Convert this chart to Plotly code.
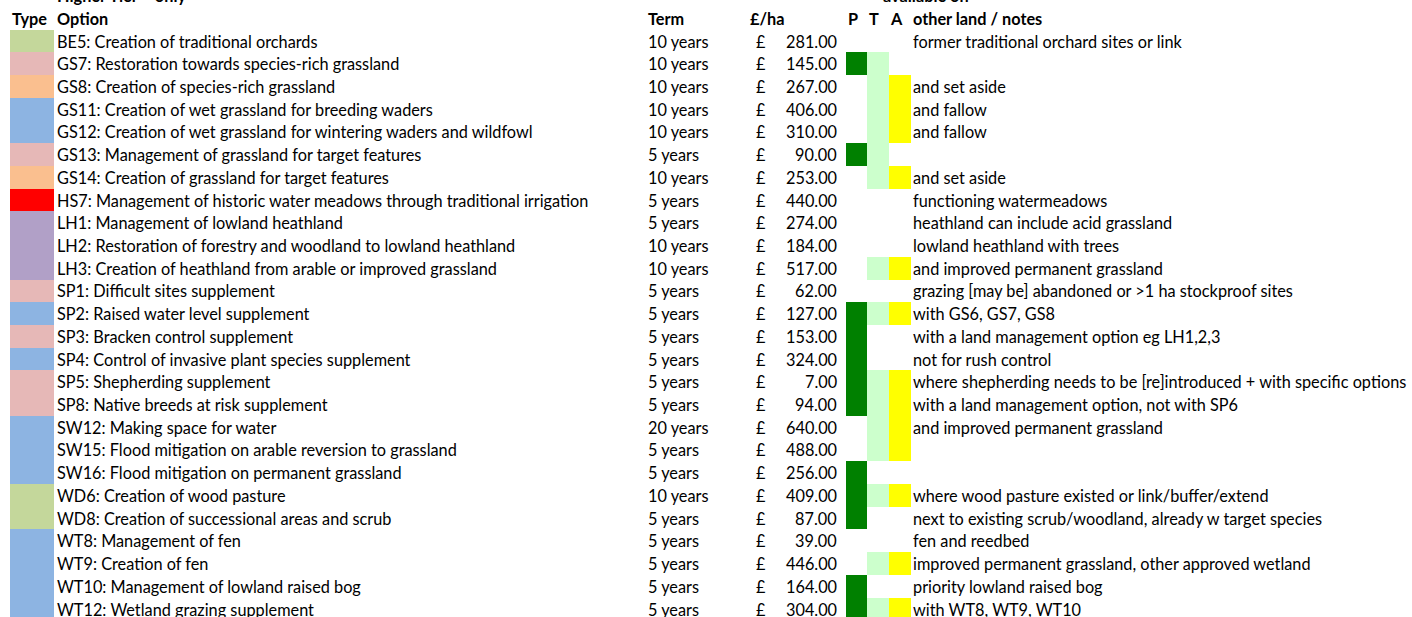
import plotly.graph_objects as go

# ---------------- data ----------------
options = [
    "BE5: Creation of traditional orchards",
    "GS7: Restoration towards species-rich grassland",
    "GS8: Creation of species-rich grassland",
    "GS11: Creation of wet grassland for breeding waders",
    "GS12: Creation of wet grassland for wintering waders and wildfowl",
    "GS13: Management of grassland for target features",
    "GS14: Creation of grassland for target features",
    "HS7: Management of historic water meadows through traditional irrigation",
    "LH1: Management of lowland heathland",
    "LH2: Restoration of forestry and woodland to lowland heathland",
    "LH3: Creation of heathland from arable or improved grassland",
    "SP1: Difficult sites supplement",
    "SP2: Raised water level supplement",
    "SP3: Bracken control supplement",
    "SP4: Control of invasive plant species supplement",
    "SP5: Shepherding supplement",
    "SP8: Native breeds at risk supplement",
    "SW12: Making space for water",
    "SW15: Flood mitigation on arable reversion to grassland",
    "SW16: Flood mitigation on permanent grassland",
    "WD6: Creation of wood pasture",
    "WD8: Creation of successional areas and scrub",
    "WT8: Management of fen",
    "WT9: Creation of fen",
    "WT10: Management of lowland raised bog",
    "WT12: Wetland grazing supplement",
]
types = ["green", "pink", "orange", "blue", "blue", "pink", "orange", "red",
         "purple", "purple", "purple", "pink", "blue", "pink", "blue", "pink",
         "pink", "blue", "blue", "blue", "green", "green", "blue", "blue",
         "blue", "blue"]
terms = ["10 years", "10 years", "10 years", "10 years", "10 years", "5 years",
         "10 years", "5 years", "5 years", "10 years", "10 years", "5 years",
         "5 years", "5 years", "5 years", "5 years", "5 years", "20 years",
         "5 years", "5 years", "10 years", "5 years", "5 years", "5 years",
         "5 years", "5 years"]
per_ha = [281, 145, 267, 406, 310, 90, 253, 440, 274, 184, 517, 62, 127, 153,
          324, 7, 94, 640, 488, 256, 409, 87, 39, 446, 164, 304]
avail_P = [0, 1, 0, 0, 0, 1, 0, 0, 0, 0, 0, 0, 1, 1, 1, 1, 1, 0, 0, 1, 1, 1, 0, 0, 1, 1]
avail_T = [0, 1, 1, 1, 1, 1, 1, 0, 0, 0, 1, 0, 1, 0, 0, 1, 1, 1, 1, 0, 1, 0, 0, 1, 0, 1]
avail_A = [0, 0, 1, 1, 1, 0, 1, 0, 0, 0, 1, 0, 1, 0, 0, 1, 1, 1, 1, 0, 1, 0, 0, 1, 0, 1]
notes = [
    "former traditional orchard sites or link",
    "",
    "and set aside",
    "and fallow",
    "and fallow",
    "",
    "and set aside",
    "functioning watermeadows",
    "heathland can include acid grassland",
    "lowland heathland with trees",
    "and improved permanent grassland",
    "grazing [may be] abandoned or >1 ha stockproof sites",
    "with GS6, GS7, GS8",
    "with a land management option eg LH1,2,3",
    "not for rush control",
    "where shepherding needs to be [re]introduced + with specific options",
    "with a land management option, not with SP6",
    "and improved permanent grassland",
    "",
    "",
    "where wood pasture existed or link/buffer/extend",
    "next to existing scrub/woodland, already w target species",
    "fen and reedbed",
    "improved permanent grassland, other approved wetland",
    "priority lowland raised bog",
    "with WT8, WT9, WT10",
]
headers = ["Type", "Option", "Term", "£/ha", "P", "T", "A", "other land / notes"]
title_left = "Higher Tier – only"
title_right = "available on"

# ---------------- styling ----------------
type_colors = {"green": "#C4D79B", "pink": "#E6B8B7", "orange": "#FABF8F",
               "blue": "#8DB4E2", "red": "#FF0000", "purple": "#B1A0C7"}
P_COLOR, T_COLOR, A_COLOR = "#008000", "#CCFFCC", "#FFFF00"
FONT = "Lato"
FS = 16.3

W, H = 1412, 617
ROW_H = 22.72
FIRST_C = 41.0
y_top = -FIRST_C / ROW_H
y_bot = (H - FIRST_C) / ROW_H

# column geometry (x in pixels)
TYPE_X0, TYPE_X1 = 10, 54
OPT_X = 55
TERM_X = 646
POUND_X = 754
VAL_X = 839
P_X0, T_X0, A_X0, A_X1 = 846, 867, 889, 911
NOTE_X = 911

n = len(options)
rows = list(range(n))

fig = go.Figure()


def cell_bar(xs0, xs1, ys, colors):
    fig.add_trace(go.Bar(
        y=ys, x=[b - a for a, b in zip(xs0, xs1)], base=xs0,
        orientation="h", width=1.0,
        marker=dict(color=colors, line=dict(width=0)),
        hoverinfo="skip", showlegend=False))


cell_bar([TYPE_X0] * n, [TYPE_X1] * n, rows, [type_colors[t] for t in types])
for flags, x0, x1, c in [(avail_P, P_X0, T_X0, P_COLOR),
                         (avail_T, T_X0, A_X0, T_COLOR),
                         (avail_A, A_X0, A_X1, A_COLOR)]:
    ys = [i for i in rows if flags[i]]
    cell_bar([x0] * len(ys), [x1] * len(ys), ys, [c] * len(ys))

ann = []


def txt(x, y, s, anchor="left", bold=False, yshift=0):
    ann.append(dict(x=x, y=y, xref="x", yref="y", text=(f"<b>{s}</b>" if bold else s),
                    showarrow=False, xanchor=anchor, yanchor="middle", yshift=yshift,
                    font=dict(family=FONT, size=FS, color="#000000")))


# top partially cut-off row (anchored inside range, shifted up one half row)
txt(OPT_X, -1.5, title_left, bold=True, yshift=ROW_H / 2)
txt(881, -1.5, title_right, bold=True, yshift=ROW_H / 2)

# header row
hx = [(10, "left"), (OPT_X, "left"), (TERM_X, "left"), (748, "left"),
      (853, "center"), (874, "center"), (896, "center"), (NOTE_X, "left")]
for (x, a), h in zip(hx, headers):
    txt(x, -1, h, anchor=a, bold=True)

for i in rows:
    txt(OPT_X, i, options[i])
    txt(TERM_X, i, terms[i])
    txt(POUND_X, i, "£")
    txt(VAL_X, i, f"{per_ha[i]:.2f}", anchor="right")
    if notes[i]:
        txt(NOTE_X, i, notes[i])

fig.update_layout(
    width=W, height=H, margin=dict(l=0, r=0, t=0, b=0),
    paper_bgcolor="white", plot_bgcolor="white",
    barmode="overlay", bargap=0,
    xaxis=dict(range=[0, W], visible=False, fixedrange=True),
    yaxis=dict(range=[y_bot, y_top], visible=False, fixedrange=True),
    annotations=ann,
)

fig.write_html(
    "out.html",
    config={"displayModeBar": False},
    post_script="document.body.style.margin='0';document.body.style.overflow='hidden';",
)
